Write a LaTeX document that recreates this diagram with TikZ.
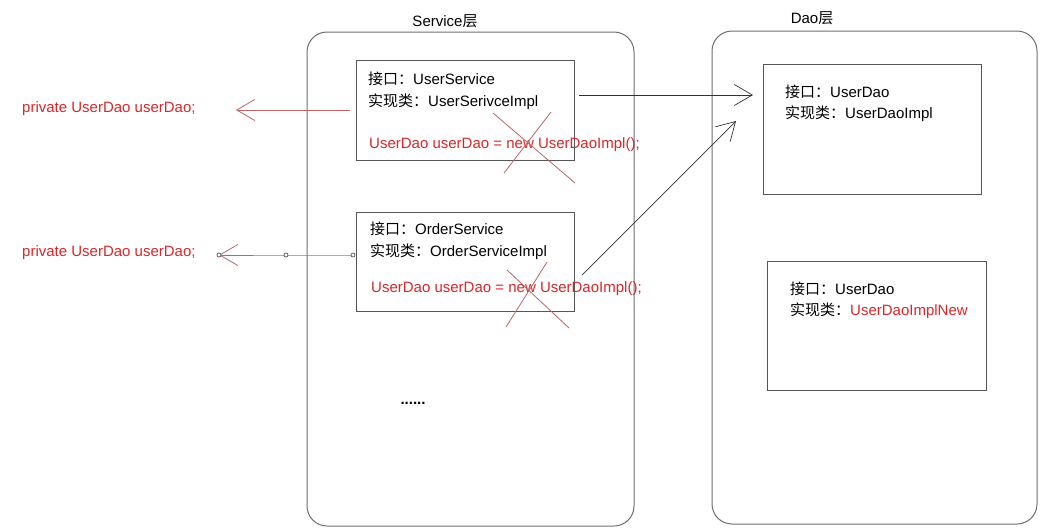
\documentclass[tikz,border=0pt]{standalone}
\usepackage{fontspec}
\setmainfont{Liberation Sans}
\newfontfamily\cjk{Noto Sans CJK SC}
\usetikzlibrary{arrows.meta}
\definecolor{txtred}{RGB}{214,40,44}
\definecolor{linered}{RGB}{190,100,100}
\definecolor{boxgray}{RGB}{85,85,85}
\definecolor{outergray}{RGB}{110,110,110}
\definecolor{arrowgray}{RGB}{50,50,50}
\tikzset{
  outerbox/.style={draw=outergray, line width=1pt, rounded corners=20pt, inner sep=0pt},
  innerbox/.style={draw=boxgray, line width=1pt, inner sep=0pt},
  txt/.style={anchor=west, inner sep=0pt, font=\fontsize{15}{18}\selectfont, text height=11pt, text depth=3pt},
  redtxt/.style={txt, text=txtred},
  title/.style={inner sep=0pt, font=\fontsize{15}{18}\selectfont},
  blackarrow/.style={draw=arrowgray, line width=0.7pt, -{Straight Barb[length=18pt, width=21pt, line width=0.7pt]}},
  redarrow/.style={draw=linered, line width=1pt, -{Straight Barb[length=18pt, width=21pt, line width=0.8pt]}},
  crossline/.style={draw=linered, line width=0.8pt},
  handle/.style={circle, draw=boxgray, fill=white, line width=0.7pt, inner sep=0pt, minimum size=4pt}
}
\begin{document}
\begin{tikzpicture}[x=1pt, y=-1pt]
\useasboundingbox (0,0) rectangle (1041,531);
% outer layers
\node[outerbox, minimum width=327pt, minimum height=494pt] (svc) at (470.5,279) {};
\node[outerbox, minimum width=325pt, minimum height=493pt] (dao) at (874.5,277.5) {};
\node[title] (svclbl) at (445,21) {Service{\cjk 层}};
\node[title] (daolbl) at (812,18) {Dao{\cjk 层}};
% inner boxes
\node[innerbox, minimum width=218pt, minimum height=100pt] (us) at (465,110) {};
\node[innerbox, minimum width=218pt, minimum height=99pt] (os) at (465,261.5) {};
\node[innerbox, minimum width=218pt, minimum height=130pt] (d1) at (872,129) {};
\node[innerbox, minimum width=219pt, minimum height=129pt] (d2) at (876.5,325.5) {};
% texts
\node[txt] (us1) at (368,80) {{\cjk 接口：}UserService};
\node[txt] (us2) at (368,102) {{\cjk 实现类：}UserSerivceImpl};
\node[redtxt] (us3) at (369,144) {UserDao userDao = new UserDaoImpl();};
\node[txt] (os1) at (370,230) {{\cjk 接口：}OrderService};
\node[txt] (os2) at (370,252) {{\cjk 实现类：}OrderServiceImpl};
\node[redtxt] (os3) at (371,288) {UserDao userDao = new UserDaoImpl();};
\node[txt] (d11) at (785,93) {{\cjk 接口：}UserDao};
\node[txt] (d12) at (785,114) {{\cjk 实现类：}UserDaoImpl};
\node[txt] (d21) at (790,290) {{\cjk 接口：}UserDao};
\node[txt] (d22) at (790,311) {{\cjk 实现类：}\textcolor{txtred}{UserDaoImplNew}};
\node[title] (dots) at (413,403) {\bfseries ......};
\node[redtxt] (p1) at (22,108) {private UserDao userDao;};
\node[redtxt] (p2) at (22,252) {private UserDao userDao;};
% crosses
\coordinate (x1a) at (493,113); \coordinate (x1b) at (575,183);
\coordinate (x1c) at (551,112); \coordinate (x1d) at (504,173);
\coordinate (x2a) at (507,270); \coordinate (x2b) at (569,328);
\coordinate (x2c) at (547,262); \coordinate (x2d) at (506,327);
\draw[crossline] (x1a) -- (x1b);
\draw[crossline] (x1c) -- (x1d);
\draw[crossline] (x2a) -- (x2b);
\draw[crossline] (x2c) -- (x2d);
% black arrows
\coordinate (h1s) at (579,95); \coordinate (h1e) at (753,95);
\coordinate (h2s) at (582,275); \coordinate (h2e) at (736,121);
\draw[blackarrow] (h1s) -- (h1e);
\draw[blackarrow] (h2s) -- (h2e);
% red arrows to the left
\coordinate (r1s) at (350,110); \coordinate (r1e) at (236,110);
\draw[redarrow] (r1s) -- (r1e);
\coordinate (r2s) at (353,255); \coordinate (r2m) at (286,255); \coordinate (r2e) at (219,255);
\draw[redarrow] (r2s) -- (r2m) -- (r2e);
\node[handle] (hd1) at (r2s) {};
\node[handle] (hd2) at (r2m) {};
\node[handle] (hd3) at (r2e) {};
\end{tikzpicture}
\end{document}
